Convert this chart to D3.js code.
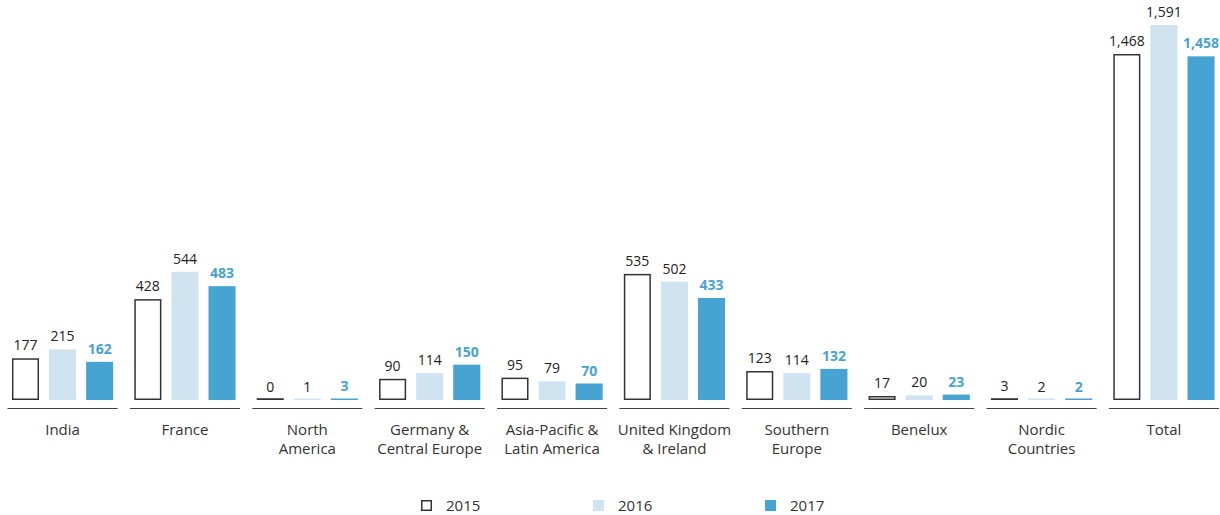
<!DOCTYPE html>
<html>
<head>
<meta charset="utf-8">
<script src="https://cdn.jsdelivr.net/npm/d3@7"></script>
<style>
  body { margin: 0; background: #fff; }
  text { font-family: "Open Sans", "Noto Sans", sans-serif; }
</style>
</head>
<body>
<svg id="chart" width="1220" height="515"></svg>
<script>
const categories = [
  ['India'], ['France'], ['North', 'America'], ['Germany &', 'Central Europe'],
  ['Asia-Pacific &', 'Latin America'], ['United Kingdom', '& Ireland'],
  ['Southern', 'Europe'], ['Benelux'], ['Nordic', 'Countries'], ['Total']
];
const years = ['2015', '2016', '2017'];
const values2015 = [177, 428, 0, 90, 95, 535, 123, 17, 3, 1468];
const values2016 = [215, 544, 1, 114, 79, 502, 114, 20, 2, 1591];
const values2017 = [162, 483, 3, 150, 70, 433, 132, 23, 2, 1458];

const series = [values2015, values2016, values2017];
const colors = { fill: ['#ffffff', '#d0e3f1', '#47a3d1'], stroke: ['#333333', 'none', 'none'] };

const svg = d3.select('#chart');
const baseline = 400;
const catKeys = categories.map(c => c.join(' '));

const x0 = d3.scaleBand().domain(catKeys).range([7.5, 1219]).paddingInner(0.1).paddingOuter(0);
const x1 = d3.scaleBand().domain(years).range([0, x0.bandwidth()]).paddingInner(0.27).paddingOuter(0.12);
const y = d3.scaleLinear().domain([0, 1591]).range([baseline, 25]);

const fmt = d3.format(',');

const groups = svg.selectAll('g.cat')
  .data(categories.map((c, i) => ({ key: catKeys[i], lines: c, i })))
  .enter().append('g').attr('class', 'cat')
  .attr('transform', d => `translate(${x0(d.key)},0)`);

// baseline separator
groups.append('line')
  .attr('x1', 0).attr('x2', x0.bandwidth())
  .attr('y1', 408.5).attr('y2', 408.5)
  .attr('stroke', '#444').attr('stroke-width', 1.2);

years.forEach((yr, s) => {
  const outlined = s === 0;
  const barH = d => baseline - y(series[s][d.i]);
  groups.append('rect')
    .attr('x', x1(yr) + (outlined ? 0.75 : 0))
    .attr('width', x1.bandwidth() - (outlined ? 1.5 : 0))
    .attr('y', d => outlined
      ? baseline - 0.75 - Math.max(barH(d) - 1.5, 0.3)
      : baseline - Math.max(barH(d), 1.5))
    .attr('height', d => outlined ? Math.max(barH(d) - 1.5, 0.3) : Math.max(barH(d), 1.5))
    .attr('fill', colors.fill[s])
    .attr('stroke', colors.stroke[s])
    .attr('stroke-width', 1.5);

  groups.append('text')
    .attr('x', x1(yr) + x1.bandwidth() / 2)
    .attr('y', d => y(series[s][d.i]) - 8)
    .attr('text-anchor', 'middle')
    .attr('font-size', 14)
    .attr('font-weight', s === 2 ? 'bold' : 'normal')
    .attr('fill', s === 2 ? '#47a3d1' : '#222')
    .text(d => fmt(series[s][d.i]));
});

// category labels
groups.append('text')
  .attr('text-anchor', 'middle')
  .attr('font-size', 15)
  .attr('fill', '#333')
  .attr('x', x0.bandwidth() / 2)
  .selectAll('tspan')
  .data(d => d.lines)
  .enter().append('tspan')
  .attr('x', x0.bandwidth() / 2)
  .attr('y', (d, i) => 435 + i * 19)
  .text(d => d);

// legend
const legendX = [421, 593, 765];
const legend = svg.selectAll('g.legend')
  .data(years).enter().append('g').attr('class', 'legend')
  .attr('transform', (d, i) => `translate(${legendX[i]},500)`);
legend.append('rect')
  .attr('x', (d, i) => i === 0 ? 0.75 : 0)
  .attr('y', (d, i) => i === 0 ? 0.75 : 0)
  .attr('width', (d, i) => i === 0 ? 9.5 : 11)
  .attr('height', (d, i) => i === 0 ? 9.5 : 11)
  .attr('fill', (d, i) => colors.fill[i])
  .attr('stroke', (d, i) => colors.stroke[i])
  .attr('stroke-width', 1.5);
legend.append('text')
  .attr('x', 25).attr('y', 11)
  .attr('font-size', 15)
  .attr('fill', '#333')
  .text(d => d);
</script>
</body>
</html>
